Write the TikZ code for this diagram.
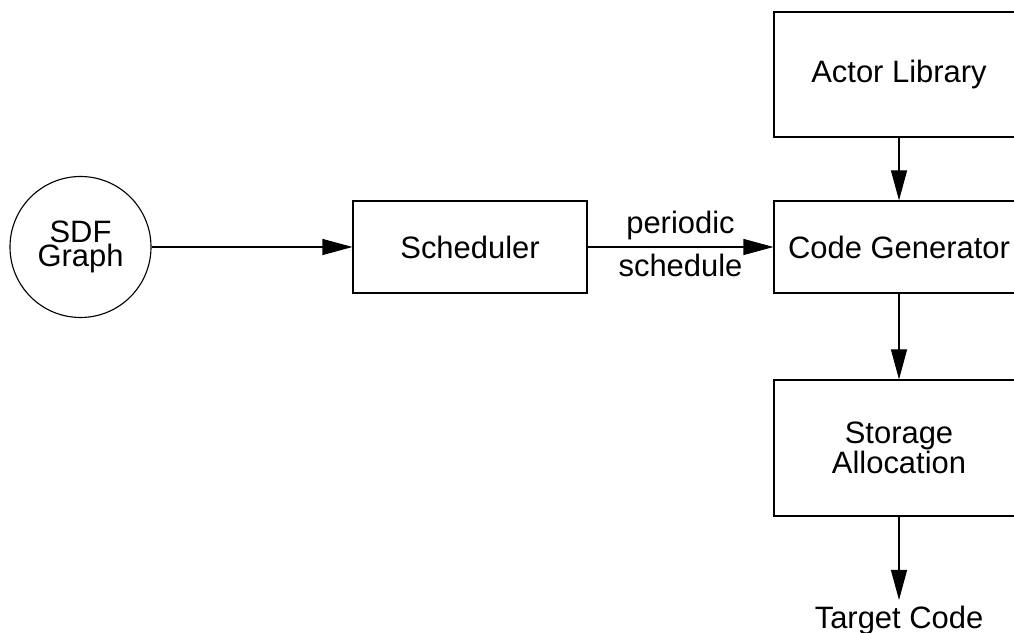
\documentclass[tikz,border=0pt]{standalone}
\usepackage{fontspec}
\setmainfont{Liberation Sans}
\usetikzlibrary{arrows.meta}

\begin{document}
\begin{tikzpicture}[
  font=\fontsize{22pt}{21pt}\selectfont,
  line width=0.8pt,
  blk/.style={draw, rectangle, align=center},
  flow/.style={-{Triangle[length=0.75cm, width=0.4cm]}}
]
\clip (0,0) rectangle (25.35,15.825);
\node [draw, circle, minimum size=3.525cm, align=center, font=\fontsize{22pt}{17pt}\selectfont] (sdf) at (2.0125,9.65) {SDF\\Graph};
\node [blk, minimum width=5.85cm, minimum height=2.3cm] (sched) at (11.75,9.65) {Scheduler};
\node [blk, minimum width=6.25cm, minimum height=2.3cm] (codegen) at (22.475,9.65) {Code Generator};
\node [blk, minimum width=6.25cm, minimum height=3.125cm] (actlib) at (22.475,13.9625) {Actor Library};
\node [blk, minimum width=6.25cm, minimum height=3.4cm] (stor) at (22.475,4.625) {Storage\\Allocation};
\node [anchor=north, inner sep=4pt] (target) at (22.475,0.825) {Target Code};
\draw [flow] (sdf) -- (sched);
\draw [flow] (sched) -- node[above, inner sep=0.175cm]{periodic} node[below, inner sep=0.175cm]{schedule} (codegen);
\draw [flow] (actlib) -- (codegen);
\draw [flow] (codegen) -- (stor);
\draw [flow] (stor) -- (target);
\end{tikzpicture}
\end{document}
